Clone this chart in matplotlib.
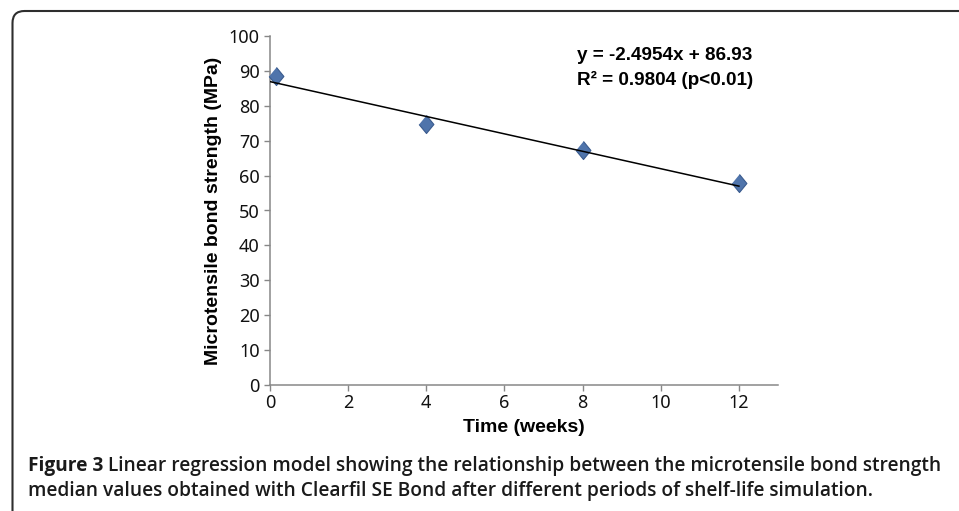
"""
    Linear regression of microtensile bond strength vs shelf-life time (Clearfil SE Bond).
"""

import matplotlib
matplotlib.use("Agg")
import matplotlib.pyplot as plt
from matplotlib.patches import FancyBboxPatch

# Data
weeks = [0.15, 4.0, 8.0, 12.0]
strength = [88.5, 74.8, 67.3, 57.8]

# Trend line shown on the chart
slope = -2.4954
intercept = 86.93
trend_x = [0, 12]

x_ticks = [0, 2, 4, 6, 8, 10, 12]
y_ticks = [0, 10, 20, 30, 40, 50, 60, 70, 80, 90, 100]

eq_line1 = "y = -2.4954x + 86.93"
eq_line2 = "R² = 0.9804 (p<0.01)"
caption_head = "Figure 3"
caption_rest1 = "Linear regression model showing the relationship between the microtensile bond strength"
caption_rest2 = "median values obtained with Clearfil SE Bond after different periods of shelf-life simulation."

W, H = 959, 511
fig = plt.figure(figsize=(W / 100, H / 100), dpi=100)

# Rounded frame around the figure (open to the right and bottom)
frame = FancyBboxPatch((0.125, -0.5), 10.0, 5.5, boxstyle="round,pad=0,rounding_size=0.12",
                       transform=fig.dpi_scale_trans, fill=False,
                       edgecolor="#2e2e2e", linewidth=1.5)
fig.add_artist(frame)

# Axes placement in pixels
ax_left, ax_right, ax_top, ax_bottom = 270, 778, 36, 385
ax = fig.add_axes([ax_left / W, 1 - ax_bottom / H,
                   (ax_right - ax_left) / W, (ax_bottom - ax_top) / H])

trend_y = [slope * x + intercept for x in trend_x]
diamond = [(0, 1), (0.82, 0), (0, -1), (-0.82, 0)]
ax.plot(weeks, strength, linestyle="none", marker=diamond, markersize=13,
        markerfacecolor="#4f74ab", markeredgecolor="#3a5b8e", markeredgewidth=0.8,
        zorder=3, clip_on=False)
ax.plot(trend_x, trend_y, color="black", linewidth=1.1, zorder=4)

ax.set_xlim(0, 13)
ax.set_ylim(0, 100)
ax.set_xticks(x_ticks)
ax.set_yticks(y_ticks)

for side in ["top", "right"]:
    ax.spines[side].set_visible(False)
for side in ["left", "bottom"]:
    ax.spines[side].set_color("#878787")
    ax.spines[side].set_linewidth(1.1)

ax.tick_params(axis="both", direction="out", length=4.3, width=1.0, color="#878787",
               labelcolor="#111111")
ax.tick_params(axis="x", pad=2)
ax.tick_params(axis="y", pad=3)
for lbl in ax.get_xticklabels() + ax.get_yticklabels():
    lbl.set_fontfamily("Noto Sans")
    lbl.set_fontsize(13)
    lbl.set_fontweight("medium")

label_font = {"family": "Liberation Sans", "weight": "bold", "size": 14}
ax.set_xlabel("Time (weeks)", fontdict=label_font, labelpad=5)
ax.set_ylabel("Microtensile bond strength (MPa)", fontdict=label_font, labelpad=5)

# Regression equation
fig.text(577 / W, 1 - 60 / H, eq_line1, ha="left", va="baseline",
         family="Liberation Sans", weight="bold", size=13.6)
fig.text(577 / W, 1 - 85 / H, eq_line2, ha="left", va="baseline",
         family="Liberation Sans", weight="bold", size=13.6)

# Caption
cap_size = 13.8
head = fig.text(28 / W, 1 - 476 / H, caption_head, ha="left", va="bottom",
                family="Open Sans", weight="bold", size=cap_size, color="#1a1a1a")
ax.annotate(" " + caption_rest1, xy=(1, 0), xycoords=head, ha="left", va="bottom",
            family="Open Sans", weight="semibold", size=cap_size, color="#1a1a1a",
            annotation_clip=False)
fig.text(28 / W, 1 - 501 / H, caption_rest2, ha="left", va="bottom",
         family="Open Sans", weight="semibold", size=cap_size, color="#1a1a1a")

fig.savefig("out.png", dpi=100)
